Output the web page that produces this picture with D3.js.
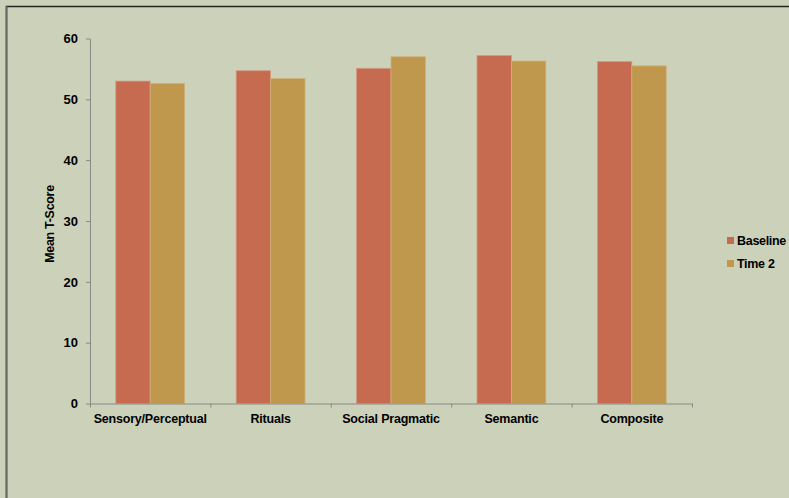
<!DOCTYPE html>
<html>
<head>
<meta charset="utf-8">
<script src="https://cdn.jsdelivr.net/npm/d3@7"></script>
<style>
  html, body { margin: 0; padding: 0; background: #ccd1b9; }
  svg { display: block; }
  text { font-family: "Liberation Sans Narrow", "Liberation Sans", Arial, sans-serif; font-weight: bold; fill: #000; }
</style>
</head>
<body>
<svg id="chart" width="789" height="498"></svg>
<script>
// Mean T-scores per subscale, baseline vs. follow-up
const categories = ["Sensory/Perceptual", "Rituals", "Social Pragmatic", "Semantic", "Composite"];
const seriesNames = ["Baseline", "Time 2"];
const baseline = [53.0, 54.7, 55.1, 57.2, 56.2];
const time2 = [52.6, 53.4, 57.0, 56.3, 55.5];
const yTicks = [0, 10, 20, 30, 40, 50, 60];
const colors = ["#c66a50", "#bf974d"];

(function draw() {
  const svg = d3.select("#chart");
  const W = 789, H = 498;

  svg.append("rect").attr("width", W).attr("height", H).attr("fill", "#ccd1b9");

  // Chart area frame
  svg.append("path")
    .attr("d", `M6.5,${H} V6.5 H${W}`)
    .attr("fill", "none").attr("stroke", "#222").attr("stroke-width", 1.6);
  svg.append("line").attr("x1", 6.5).attr("x2", 6.5).attr("y1", 6).attr("y2", H)
    .attr("stroke", "#666").attr("stroke-width", 1.5);

  const plotLeft = 90, plotRight = 692, plotTop = 38.5, plotBottom = 403.5;

  const x = d3.scaleBand().domain(categories).range([plotLeft, plotRight]).paddingInner(0).paddingOuter(0);
  const xs = d3.scaleBand().domain(seriesNames).range([0, x.bandwidth()]).paddingInner(0).paddingOuter(0.75);
  const y = d3.scaleLinear().domain([0, 60]).range([plotBottom, plotTop]);

  const rows = categories.map((c, i) => ({ c, vals: [baseline[i], time2[i]] }));

  const groups = svg.append("g").selectAll("g").data(rows).join("g")
    .attr("transform", d => `translate(${x(d.c)},0)`);
  groups.selectAll("rect").data(d => d.vals.map((v, j) => ({ v, s: seriesNames[j], j })))
    .join("rect")
    .attr("x", d => xs(d.s))
    .attr("width", xs.bandwidth())
    .attr("y", d => y(d.v))
    .attr("height", d => y(0) - y(d.v))
    .attr("fill", d => colors[d.j])
    .attr("stroke", d => d.j === 0 ? "#d29a82" : "#d2b07a")
    .attr("stroke-width", 0.8);

  // Y axis
  const yAxis = svg.append("g").attr("transform", `translate(${plotLeft},0)`)
    .call(d3.axisLeft(y).tickValues(yTicks).tickSize(4).tickPadding(8).tickSizeOuter(0));
  yAxis.select(".domain").attr("stroke", "#8a8a84");
  yAxis.selectAll(".tick line").attr("stroke", "#8a8a84");
  yAxis.selectAll(".tick text").attr("font-size", 13).attr("font-family", "Liberation Sans Narrow, Liberation Sans, sans-serif").attr("font-weight", "bold").attr("fill", "#000");

  // X axis
  const xAxis = svg.append("g").attr("transform", `translate(0,${plotBottom})`)
    .call(d3.axisBottom(x).tickSize(0).tickPadding(11));
  xAxis.select(".domain").attr("stroke", "#8a8a84");
  xAxis.selectAll(".tick text").attr("font-size", 12.5).attr("letter-spacing", -0.2)
    .attr("font-family", "Liberation Sans Narrow, Liberation Sans, sans-serif").attr("font-weight", "bold").attr("fill", "#000");
  // Tick marks between categories
  const bounds = categories.map(c => x(c)).concat([plotRight]);
  svg.append("g").selectAll("line").data(bounds).join("line")
    .attr("x1", d => d + 0.5).attr("x2", d => d + 0.5)
    .attr("y1", plotBottom).attr("y2", plotBottom + 4)
    .attr("stroke", "#8a8a84");

  // Y axis title
  svg.append("text")
    .attr("transform", `translate(54,${(plotTop + plotBottom) / 2 + 3}) rotate(-90)`)
    .attr("text-anchor", "middle")
    .attr("font-size", 12.5)
    .attr("letter-spacing", -0.3)
    .text("Mean T-Score");

  // Legend
  const legend = svg.append("g").attr("transform", "translate(727,237)");
  seriesNames.forEach((s, i) => {
    const g = legend.append("g").attr("transform", `translate(0,${i * 23})`);
    g.append("rect").attr("width", 7).attr("height", 7).attr("fill", colors[i]);
    g.append("text").attr("x", 10).attr("y", 7.5).attr("font-size", 12.5).attr("letter-spacing", -0.3).text(s);
  });
})();
</script>
</body>
</html>
